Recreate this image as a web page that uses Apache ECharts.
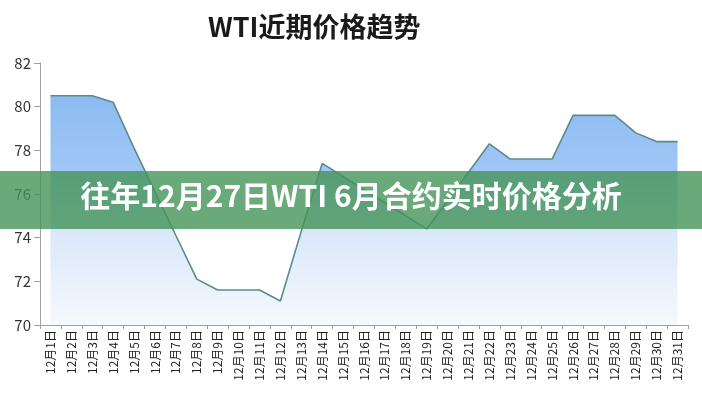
<!DOCTYPE html>
<html>
<head>
<meta charset="utf-8">
<script src="https://cdn.jsdelivr.net/npm/echarts@6/dist/echarts.min.js"></script>
<style>
	html, body { margin: 0; padding: 0; background: #fff; }
	#chart { width: 702px; height: 400px; }
</style>
</head>
<body>
<div id="chart"></div>
<script>
var days = [];
for (var d = 1; d <= 31; d++) {
	days.push('12月' + d + '日');
}
var prices = [
	80.5, 80.5, 80.5, 80.2, 78.1, 76.1, 74.1, 72.1, 71.6, 71.6,
	71.6, 71.1, 74.3, 77.4, 76.8, 76.2, 75.6, 75.0, 74.4, 75.7,
	77.0, 78.3, 77.6, 77.6, 77.6, 79.6, 79.6, 79.6, 78.8, 78.4,
	78.4
];
var yTicks = { min: 70, max: 82, step: 2 };
var chartTitle = 'WTI近期价格趋势';
var bannerText = '往年12月27日WTI 6月合约实时价格分析';

var cnFont = '"Noto Sans CJK SC", "Noto Sans", sans-serif';

var option = {
	backgroundColor: '#fff',
	title: {
		text: chartTitle,
		left: 203,
		top: 8,
		textStyle: {
			fontFamily: cnFont,
			fontSize: 27,
			fontWeight: 'bold',
			color: '#1a1a1a'
		}
	},
	grid: {
		left: 40,
		right: 14,
		top: 63,
		bottom: 75,
		containLabel: false
	},
	xAxis: {
		type: 'category',
		data: days,
		boundaryGap: true,
		axisLine: { lineStyle: { color: '#a0a0a0', width: 1 } },
		axisTick: { show: true, lineStyle: { color: '#a0a0a0' }, length: 4 },
		axisLabel: {
			interval: 0,
			rotate: 90,
			fontSize: 12,
			fontFamily: cnFont,
			color: '#222',
			margin: 5
		}
	},
	yAxis: {
		type: 'value',
		min: yTicks.min,
		max: yTicks.max,
		interval: yTicks.step,
		axisLine: { show: true, lineStyle: { color: '#a0a0a0', width: 1 } },
		axisTick: { show: true, inside: false, length: 6, lineStyle: { color: '#a0a0a0' } },
		splitLine: { show: false },
		axisLabel: {
			fontSize: 15,
			fontFamily: cnFont,
			color: '#333',
			margin: 9
		}
	},
	series: [{
		type: 'line',
		data: prices,
		symbol: 'none',
		smooth: false,
		lineStyle: { color: '#5b8a8c', width: 1.6 },
		areaStyle: {
			color: new echarts.graphic.LinearGradient(0, 0, 0, 1, [
				{ offset: 0, color: '#8cbbf2' },
				{ offset: 0.35, color: '#a2c8f5' },
				{ offset: 0.6, color: '#dae8fa' },
				{ offset: 1, color: '#f6f9fd' }
			]),
			opacity: 1
		}
	}],
	graphic: [{
		type: 'rect',
		left: 0,
		top: 171,
		shape: { width: 702, height: 58 },
		style: { fill: 'rgba(69,148,89,0.8)' },
		z: 100
	}, {
		type: 'text',
		left: 'center',
		top: 181,
		style: {
			text: bannerText,
			fill: '#fff',
			font: 'bold 30px "Noto Sans CJK SC", sans-serif'
		},
		z: 101
	}]
};

var myChart = echarts.init(document.getElementById('chart'));
myChart.setOption(option);
</script>
</body>
</html>
